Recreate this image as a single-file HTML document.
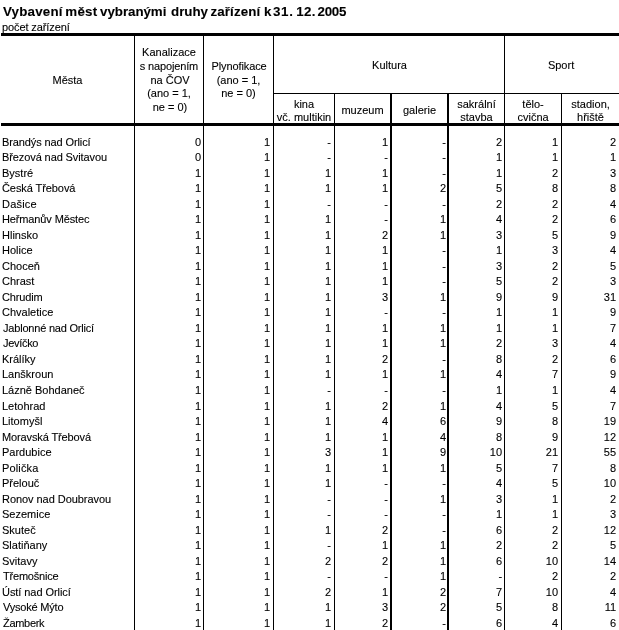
<!DOCTYPE html>
<html lang="cs"><head><meta charset="utf-8"><title>Vybavení měst vybranými druhy zařízení k 31. 12. 2005</title>
<style>
html,body{margin:0;padding:0;background:#fff;}
body{-webkit-text-stroke:0.1px #000;width:619px;height:630px;overflow:hidden;position:relative;font-family:"Liberation Sans",sans-serif;font-size:11px;color:#000;}
h1{position:absolute;left:3px;top:4px;margin:0;font-size:13.33px;line-height:16px;font-weight:bold;white-space:nowrap;letter-spacing:-0.04px;}
p.sub{position:absolute;left:2px;top:20px;margin:0;font-size:11px;line-height:14px;white-space:nowrap;letter-spacing:-0.1px;}
table{position:absolute;left:1px;top:33px;border-collapse:separate;border-spacing:0;table-layout:fixed;width:618px;}
td,th{padding:0;margin:0;font-weight:normal;font-size:11px;line-height:14px;border:0 solid #000;border-right-width:1px;overflow:hidden;white-space:nowrap;}
th{text-align:center;vertical-align:top;line-height:14px;}
th i{display:block;font-style:normal;line-height:14px;}
th i.l12{line-height:12px;}
th i.l16{line-height:16px;}

.b2{border-right-width:2px;}
.b0{border-right-width:0;}
tr.h1 th{border-top:3px solid #000;}
tr.h1 th.g{border-bottom:1px solid #000;height:57px;}
tr.h1 th.r2{border-bottom:3px solid #000;}
tr.h2 th{border-bottom:3px solid #000;height:29px;}
.hm{padding-top:37px;}
.hk{padding-top:9px;}
.hp{padding-top:23px;}
.hku{padding-top:22px;padding-left:1px;}
.hs{padding-top:22px;padding-right:2px;}
th i.r1{padding-left:2px;}
.s2{padding-top:3px;}
.s1{padding-top:9px;}

tr.sp td{height:9px;line-height:0;font-size:0;}
td{vertical-align:top;text-align:right;}
td.n{text-align:left;padding-left:1px;}
td.c1{padding-right:2px;}
td.c2{padding-right:3px;}
td.c3{padding-right:3px;}
td.c4{padding-right:2px;}
td.c5{padding-right:1px;}
td.c6{padding-right:2px;}
td.c7{padding-right:3px;}
td.c8{padding-right:3px;}
</style></head><body>
<h1><span style="letter-spacing:0.20px;">Vybavení</span> <span style="letter-spacing:0.23px;margin-left:-1.00px;">měst</span> <span style="margin-left:-1.00px;">vybranými</span> <span style="margin-left:1.00px;">druhy</span> <span style="letter-spacing:0.10px;margin-left:-1.00px;">zařízení</span> <span>k</span> <span style="letter-spacing:0.70px;margin-left:-2.00px;">31.</span> <span style="letter-spacing:0.35px;margin-left:-1.00px;">12.</span> <span style="letter-spacing:-0.23px;margin-left:-2.00px;">2005</span></h1>
<p class="sub">počet zařízení</p>
<table>
<colgroup><col style="width:134px"><col style="width:69px"><col style="width:70px"><col style="width:61px"><col style="width:57px"><col style="width:57px"><col style="width:56px"><col style="width:57px"><col style="width:57px"></colgroup>
<thead>
<tr class="h1"><th class="r2" rowspan="2"><div class="hm">Města</div></th><th class="r2" rowspan="2"><div class="hk"><i>Kanalizace</i><i style="letter-spacing:-0.15px">s napojením</i><i class="r1">na ČOV</i><i class="l12">(ano = 1,</i><i class="l16 r1">ne = 0)</i></div></th><th class="r2" rowspan="2"><div class="hp"><i style="letter-spacing:-0.1px;padding-left:1px">Plynofikace</i><i>(ano = 1,</i><i class="l12">ne = 0)</i></div></th><th class="g" colspan="4"><div class="hku">Kultura</div></th><th class="g b0" colspan="2"><div class="hs">Sport</div></th></tr>
<tr class="h2"><th><div class="s2"><i>kina</i><i class="l12">vč. multikin</i></div></th><th class="b2"><div class="s1">muzeum</div></th><th class="b2"><div class="s1">galerie</div></th><th><div class="s2"><i>sakrální</i><i class="l12">stavba</i></div></th><th><div class="s2"><i>tělo-</i><i class="l12">cvična</i></div></th><th class="b0"><div class="s2"><i>stadion,</i><i class="l12">hřiště</i></div></th></tr>
</thead>
<tbody>
<tr class="sp"><td class=""></td><td class=""></td><td class=""></td><td class=""></td><td class="b2"></td><td class="b2"></td><td class=""></td><td class=""></td><td class="b0"></td></tr>
<tr style="height:15px"><td class="n" style="letter-spacing:-0.11px;">Brandýs nad Orlicí</td><td class="c1">0</td><td class="c2">1</td><td class="c3">-</td><td class="c4 b2">1</td><td class="c5 b2">-</td><td class="c6">2</td><td class="c7">1</td><td class="c8 b0">2</td></tr>
<tr style="height:16px"><td class="n" style="letter-spacing:-0.1px;">Březová nad Svitavou</td><td class="c1">0</td><td class="c2">1</td><td class="c3">-</td><td class="c4 b2">-</td><td class="c5 b2">-</td><td class="c6">1</td><td class="c7">1</td><td class="c8 b0">1</td></tr>
<tr style="height:15px"><td class="n">Bystré</td><td class="c1">1</td><td class="c2">1</td><td class="c3">1</td><td class="c4 b2">1</td><td class="c5 b2">-</td><td class="c6">1</td><td class="c7">2</td><td class="c8 b0">3</td></tr>
<tr style="height:16px"><td class="n" style="letter-spacing:-0.08px;">Česká Třebová</td><td class="c1">1</td><td class="c2">1</td><td class="c3">1</td><td class="c4 b2">1</td><td class="c5 b2">2</td><td class="c6">5</td><td class="c7">8</td><td class="c8 b0">8</td></tr>
<tr style="height:15px"><td class="n" style="letter-spacing:0.2px;">Dašice</td><td class="c1">1</td><td class="c2">1</td><td class="c3">-</td><td class="c4 b2">-</td><td class="c5 b2">-</td><td class="c6">2</td><td class="c7">2</td><td class="c8 b0">4</td></tr>
<tr style="height:16px"><td class="n" style="letter-spacing:-0.13px;">Heřmanův Městec</td><td class="c1">1</td><td class="c2">1</td><td class="c3">1</td><td class="c4 b2">-</td><td class="c5 b2">1</td><td class="c6">4</td><td class="c7">2</td><td class="c8 b0">6</td></tr>
<tr style="height:15px"><td class="n">Hlinsko</td><td class="c1">1</td><td class="c2">1</td><td class="c3">1</td><td class="c4 b2">2</td><td class="c5 b2">1</td><td class="c6">3</td><td class="c7">5</td><td class="c8 b0">9</td></tr>
<tr style="height:16px"><td class="n">Holice</td><td class="c1">1</td><td class="c2">1</td><td class="c3">1</td><td class="c4 b2">1</td><td class="c5 b2">-</td><td class="c6">1</td><td class="c7">3</td><td class="c8 b0">4</td></tr>
<tr style="height:15px"><td class="n">Choceň</td><td class="c1">1</td><td class="c2">1</td><td class="c3">1</td><td class="c4 b2">1</td><td class="c5 b2">-</td><td class="c6">3</td><td class="c7">2</td><td class="c8 b0">5</td></tr>
<tr style="height:16px"><td class="n">Chrast</td><td class="c1">1</td><td class="c2">1</td><td class="c3">1</td><td class="c4 b2">1</td><td class="c5 b2">-</td><td class="c6">5</td><td class="c7">2</td><td class="c8 b0">3</td></tr>
<tr style="height:15px"><td class="n" style="letter-spacing:-0.15px;">Chrudim</td><td class="c1">1</td><td class="c2">1</td><td class="c3">1</td><td class="c4 b2">3</td><td class="c5 b2">1</td><td class="c6">9</td><td class="c7">9</td><td class="c8 b0">31</td></tr>
<tr style="height:16px"><td class="n">Chvaletice</td><td class="c1">1</td><td class="c2">1</td><td class="c3">1</td><td class="c4 b2">-</td><td class="c5 b2">-</td><td class="c6">1</td><td class="c7">1</td><td class="c8 b0">9</td></tr>
<tr style="height:15px"><td class="n" style="letter-spacing:-0.2px;padding-left:2px;">Jablonné nad Orlicí</td><td class="c1">1</td><td class="c2">1</td><td class="c3">1</td><td class="c4 b2">1</td><td class="c5 b2">1</td><td class="c6">1</td><td class="c7">1</td><td class="c8 b0">7</td></tr>
<tr style="height:16px"><td class="n" style="letter-spacing:-0.3px;padding-left:2px;">Jevíčko</td><td class="c1">1</td><td class="c2">1</td><td class="c3">1</td><td class="c4 b2">1</td><td class="c5 b2">1</td><td class="c6">2</td><td class="c7">3</td><td class="c8 b0">4</td></tr>
<tr style="height:15px"><td class="n">Králíky</td><td class="c1">1</td><td class="c2">1</td><td class="c3">1</td><td class="c4 b2">2</td><td class="c5 b2">-</td><td class="c6">8</td><td class="c7">2</td><td class="c8 b0">6</td></tr>
<tr style="height:16px"><td class="n">Lanškroun</td><td class="c1">1</td><td class="c2">1</td><td class="c3">1</td><td class="c4 b2">1</td><td class="c5 b2">1</td><td class="c6">4</td><td class="c7">7</td><td class="c8 b0">9</td></tr>
<tr style="height:16px"><td class="n">Lázně Bohdaneč</td><td class="c1">1</td><td class="c2">1</td><td class="c3">-</td><td class="c4 b2">-</td><td class="c5 b2">-</td><td class="c6">1</td><td class="c7">1</td><td class="c8 b0">4</td></tr>
<tr style="height:15px"><td class="n">Letohrad</td><td class="c1">1</td><td class="c2">1</td><td class="c3">1</td><td class="c4 b2">2</td><td class="c5 b2">1</td><td class="c6">4</td><td class="c7">5</td><td class="c8 b0">7</td></tr>
<tr style="height:16px"><td class="n">Litomyšl</td><td class="c1">1</td><td class="c2">1</td><td class="c3">1</td><td class="c4 b2">4</td><td class="c5 b2">6</td><td class="c6">9</td><td class="c7">8</td><td class="c8 b0">19</td></tr>
<tr style="height:15px"><td class="n" style="letter-spacing:-0.12px;">Moravská Třebová</td><td class="c1">1</td><td class="c2">1</td><td class="c3">1</td><td class="c4 b2">1</td><td class="c5 b2">4</td><td class="c6">8</td><td class="c7">9</td><td class="c8 b0">12</td></tr>
<tr style="height:16px"><td class="n">Pardubice</td><td class="c1">1</td><td class="c2">1</td><td class="c3">3</td><td class="c4 b2">1</td><td class="c5 b2">9</td><td class="c6">10</td><td class="c7">21</td><td class="c8 b0">55</td></tr>
<tr style="height:15px"><td class="n" style="letter-spacing:0.15px;">Polička</td><td class="c1">1</td><td class="c2">1</td><td class="c3">1</td><td class="c4 b2">1</td><td class="c5 b2">1</td><td class="c6">5</td><td class="c7">7</td><td class="c8 b0">8</td></tr>
<tr style="height:16px"><td class="n">Přelouč</td><td class="c1">1</td><td class="c2">1</td><td class="c3">1</td><td class="c4 b2">-</td><td class="c5 b2">-</td><td class="c6">4</td><td class="c7">5</td><td class="c8 b0">10</td></tr>
<tr style="height:15px"><td class="n" style="letter-spacing:-0.05px;">Ronov nad Doubravou</td><td class="c1">1</td><td class="c2">1</td><td class="c3">-</td><td class="c4 b2">-</td><td class="c5 b2">1</td><td class="c6">3</td><td class="c7">1</td><td class="c8 b0">2</td></tr>
<tr style="height:16px"><td class="n">Sezemice</td><td class="c1">1</td><td class="c2">1</td><td class="c3">-</td><td class="c4 b2">-</td><td class="c5 b2">-</td><td class="c6">1</td><td class="c7">1</td><td class="c8 b0">3</td></tr>
<tr style="height:15px"><td class="n">Skuteč</td><td class="c1">1</td><td class="c2">1</td><td class="c3">1</td><td class="c4 b2">2</td><td class="c5 b2">-</td><td class="c6">6</td><td class="c7">2</td><td class="c8 b0">12</td></tr>
<tr style="height:16px"><td class="n">Slatiňany</td><td class="c1">1</td><td class="c2">1</td><td class="c3">-</td><td class="c4 b2">1</td><td class="c5 b2">1</td><td class="c6">2</td><td class="c7">2</td><td class="c8 b0">5</td></tr>
<tr style="height:15px"><td class="n">Svitavy</td><td class="c1">1</td><td class="c2">1</td><td class="c3">2</td><td class="c4 b2">2</td><td class="c5 b2">1</td><td class="c6">6</td><td class="c7">10</td><td class="c8 b0">14</td></tr>
<tr style="height:16px"><td class="n" style="letter-spacing:-0.2px;padding-left:2px;">Třemošnice</td><td class="c1">1</td><td class="c2">1</td><td class="c3">-</td><td class="c4 b2">-</td><td class="c5 b2">1</td><td class="c6">-</td><td class="c7">2</td><td class="c8 b0">2</td></tr>
<tr style="height:15px"><td class="n" style="letter-spacing:-0.06px;">Ústí nad Orlicí</td><td class="c1">1</td><td class="c2">1</td><td class="c3">2</td><td class="c4 b2">1</td><td class="c5 b2">2</td><td class="c6">7</td><td class="c7">10</td><td class="c8 b0">4</td></tr>
<tr style="height:16px"><td class="n" style="letter-spacing:-0.2px;padding-left:2px;">Vysoké Mýto</td><td class="c1">1</td><td class="c2">1</td><td class="c3">1</td><td class="c4 b2">3</td><td class="c5 b2">2</td><td class="c6">5</td><td class="c7">8</td><td class="c8 b0">11</td></tr>
<tr style="height:15px"><td class="n" style="letter-spacing:-0.3px;padding-left:2px;">Žamberk</td><td class="c1">1</td><td class="c2">1</td><td class="c3">1</td><td class="c4 b2">2</td><td class="c5 b2">-</td><td class="c6">6</td><td class="c7">4</td><td class="c8 b0">6</td></tr>
</tbody>
</table>
</body></html>
